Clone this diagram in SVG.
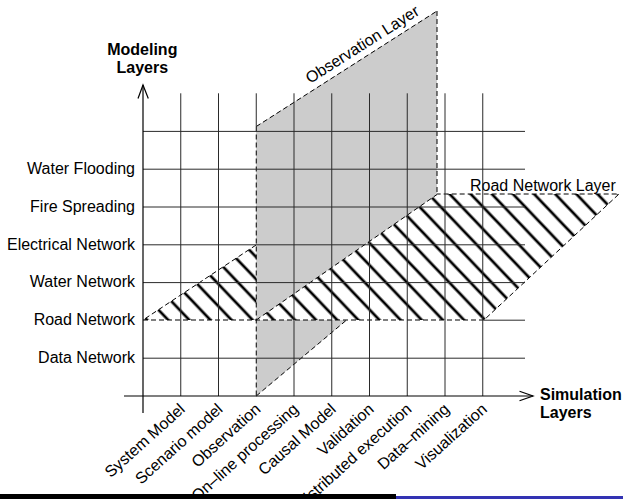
<svg xmlns="http://www.w3.org/2000/svg" width="623" height="499" viewBox="0 0 623 499">
<style>
text{font-family:"Liberation Sans",Arial,sans-serif;font-size:16px;fill:#000}
.b{font-weight:bold}
.grid line{stroke:#2a2a2a;stroke-width:1}
.dash{stroke:#000;stroke-width:1;stroke-dasharray:5 3;fill:none}
.ax{stroke:#000;stroke-width:1.2;fill:none}
</style>
<defs>
<pattern id="hatch" patternUnits="userSpaceOnUse" width="15.3" height="20" patternTransform="translate(473.3,196.7) rotate(-43.6)">
<line x1="0" y1="-5" x2="0" y2="25" stroke="#000" stroke-width="2.7"/>
<line x1="15.3" y1="-5" x2="15.3" y2="25" stroke="#000" stroke-width="2.7"/>
</pattern>
</defs>
<rect width="623" height="499" fill="#fff"/>

<g id="observation-layer-lower">
<polygon points="256.25,126.5 437,11 437,244 256.25,396" fill="#cccccc"/>
<line class="dash" x1="256.25" y1="396" x2="437" y2="244"/>
</g>

<g id="road-network-layer">
<polygon points="143,320 484,320 619,194 333,194" fill="#fff"/>
<polygon points="143,320 484,320 619,194 333,194" fill="url(#hatch)"/>
<polygon class="dash" points="143,320 484,320 619,194 333,194"/>
<text x="470" y="191">Road Network Layer</text>
</g>

<g id="observation-layer">
<polygon points="256.25,126.5 437,11 437,194.5 256.25,320" fill="#cccccc"/>
<line class="dash" x1="256.25" y1="126.5" x2="437" y2="11"/>
<line class="dash" x1="437" y1="11" x2="437" y2="194.5"/>
<line class="dash" x1="256.25" y1="126.5" x2="256.25" y2="396"/>
<line class="dash" x1="256.25" y1="320" x2="437" y2="194.5"/>
<text transform="translate(310,84) rotate(-32.4)">Observation Layer</text>
</g>

<g id="grid" class="grid">
<line x1="180.75" y1="93.3" x2="180.75" y2="396"/>
<line x1="218.5" y1="93.3" x2="218.5" y2="396"/>
<line x1="256.25" y1="93.3" x2="256.25" y2="126.5"/>
<line x1="294" y1="93.3" x2="294" y2="396"/>
<line x1="331.75" y1="93.3" x2="331.75" y2="396"/>
<line x1="369.5" y1="93.3" x2="369.5" y2="396"/>
<line x1="407.25" y1="93.3" x2="407.25" y2="396"/>
<line x1="445" y1="93.3" x2="445" y2="396"/>
<line x1="482.75" y1="93.3" x2="482.75" y2="396"/>
<line x1="143" y1="131.4" x2="525" y2="131.4"/>
<line x1="143" y1="169.2" x2="525" y2="169.2"/>
<line x1="143" y1="207" x2="525" y2="207"/>
<line x1="143" y1="244.8" x2="525" y2="244.8"/>
<line x1="143" y1="282.6" x2="525" y2="282.6"/>
<line x1="484" y1="320.2" x2="525" y2="320.2"/>
<line x1="143" y1="358.2" x2="525" y2="358.2"/>
</g>

<g id="axes">
<line class="ax" x1="143" y1="85" x2="143" y2="413"/>
<polyline class="ax" points="138,98.5 143,85 148.3,98.5"/>
<line class="ax" x1="124" y1="396" x2="533" y2="396"/>
<polyline class="ax" points="519.5,391.3 533,396 519.5,400.7"/>
</g>

<g id="modeling-axis-label">
<text class="b" x="142.3" y="55" text-anchor="middle">Modeling</text>
<text class="b" x="142.3" y="73.4" text-anchor="middle">Layers</text>
</g>
<g id="simulation-axis-label">
<text class="b" x="540" y="400">Simulation</text>
<text class="b" x="540" y="418.4">Layers</text>
</g>

<g id="modeling-labels" text-anchor="end">
<text x="135" y="174">Water Flooding</text>
<text x="135" y="211.8">Fire Spreading</text>
<text x="135" y="249.6">Electrical Network</text>
<text x="135" y="287.4">Water Network</text>
<text x="135" y="325.2">Road Network</text>
<text x="135" y="363">Data Network</text>
</g>

<g id="simulation-labels" text-anchor="end">
<text transform="translate(186,410.5) rotate(-42)">System Model</text>
<text transform="translate(223.75,410.5) rotate(-42)">Scenario model</text>
<text transform="translate(261.5,410.5) rotate(-42)">Observation</text>
<text transform="translate(299.25,410.5) rotate(-42)">On–line processing</text>
<text transform="translate(337,410.5) rotate(-42)">Causal Model</text>
<text transform="translate(374.75,410.5) rotate(-42)">Validation</text>
<text transform="translate(412.5,410.5) rotate(-42)">Distributed execution</text>
<text transform="translate(450.25,410.5) rotate(-42)">Data–mining</text>
<text transform="translate(488,410.5) rotate(-42)">Visualization</text>
</g>

<rect x="0" y="494" width="396" height="5" fill="#000"/>
<rect x="396" y="496" width="227" height="3" fill="#3333b3"/>
</svg>
